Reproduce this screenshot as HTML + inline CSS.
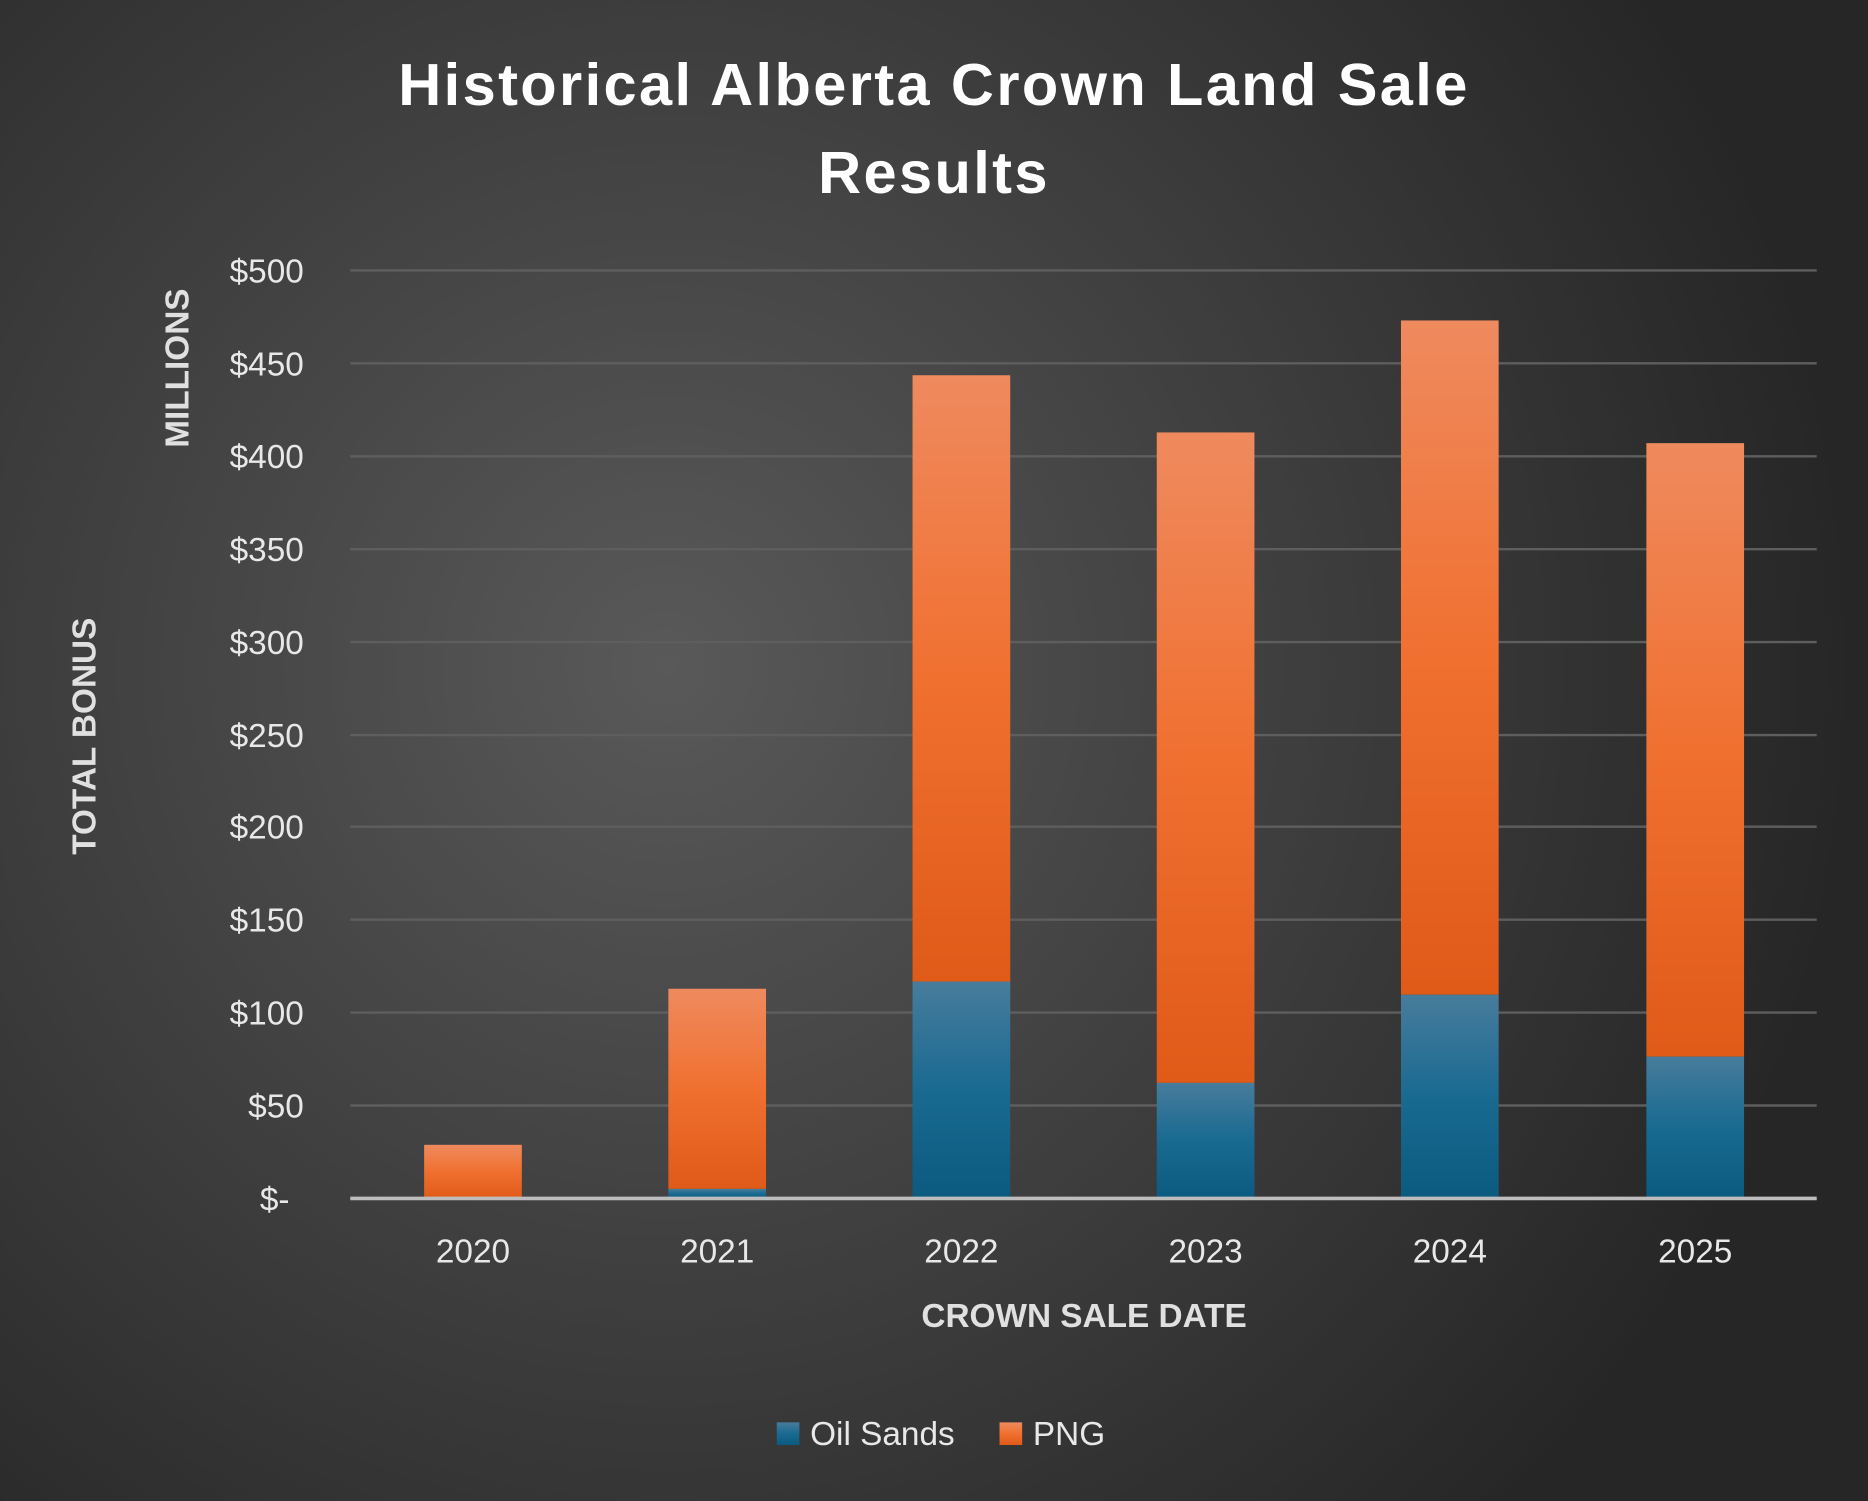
<!DOCTYPE html>
<html><head><meta charset="utf-8"><style>
html,body{margin:0;padding:0;width:1868px;height:1501px;overflow:hidden;background:#2a2a2a}
svg{display:block}
text{font-family:"Liberation Sans",sans-serif}
</style></head><body>
<svg width="1868" height="1501" viewBox="0 0 1568 1260" xmlns="http://www.w3.org/2000/svg">
<defs>
<radialGradient id="bg" cx="560" cy="560" r="1000" gradientUnits="userSpaceOnUse">
<stop offset="0" stop-color="#595959"/><stop offset="1" stop-color="#262626"/>
</radialGradient>
<linearGradient id="og" x1="0" y1="0" x2="0" y2="1">
<stop offset="0" stop-color="#ef8a5e"/><stop offset="0.5" stop-color="#f07030"/><stop offset="1" stop-color="#e05a18"/>
</linearGradient>
<linearGradient id="bl" x1="0" y1="0" x2="0" y2="1">
<stop offset="0" stop-color="#477c9c"/><stop offset="0.5" stop-color="#196a91"/><stop offset="1" stop-color="#0b5a80"/>
</linearGradient>
</defs>
<rect width="1568" height="1260" fill="url(#bg)"/>
<text x="784" y="88" text-anchor="middle" fill="#fff" font-size="50" font-weight="bold" letter-spacing="2">Historical Alberta Crown Land Sale</text>
<text x="784" y="162" text-anchor="middle" fill="#fff" font-size="50" font-weight="bold" letter-spacing="2">Results</text>
<g stroke="#5e5e5e" stroke-width="2">
<line x1="294" x2="1525" y1="227" y2="227"/><line x1="294" x2="1525" y1="305" y2="305"/>
<line x1="294" x2="1525" y1="383" y2="383"/><line x1="294" x2="1525" y1="461" y2="461"/>
<line x1="294" x2="1525" y1="539" y2="539"/><line x1="294" x2="1525" y1="617" y2="617"/>
<line x1="294" x2="1525" y1="694" y2="694"/><line x1="294" x2="1525" y1="772" y2="772"/>
<line x1="294" x2="1525" y1="850" y2="850"/><line x1="294" x2="1525" y1="928" y2="928"/>
</g>
<g fill="#e8e8e8" font-size="28" text-anchor="end">
<text x="255" y="237">$500</text><text x="255" y="315">$450</text><text x="255" y="393">$400</text>
<text x="255" y="471">$350</text><text x="255" y="549">$300</text><text x="255" y="627">$250</text>
<text x="255" y="704">$200</text><text x="255" y="782">$150</text><text x="255" y="860">$100</text>
<text x="255" y="938">$50</text><text x="243" y="1016">$-</text>
</g>
<g>
<rect x="356" y="961" width="82" height="45" fill="url(#og)"/>
<rect x="561" y="830" width="82" height="168" fill="url(#og)"/><rect x="561" y="998" width="82" height="8" fill="url(#bl)"/>
<rect x="766" y="315" width="82" height="509" fill="url(#og)"/><rect x="766" y="824" width="82" height="182" fill="url(#bl)"/>
<rect x="971" y="363" width="82" height="546" fill="url(#og)"/><rect x="971" y="909" width="82" height="97" fill="url(#bl)"/>
<rect x="1176" y="269" width="82" height="566" fill="url(#og)"/><rect x="1176" y="835" width="82" height="171" fill="url(#bl)"/>
<rect x="1382" y="372" width="82" height="515" fill="url(#og)"/><rect x="1382" y="887" width="82" height="119" fill="url(#bl)"/>
</g>
<line x1="294" x2="1525" y1="1006" y2="1006" stroke="#bdbdbd" stroke-width="3"/>
<g fill="#e8e8e8" font-size="28" text-anchor="middle">
<text x="397" y="1060">2020</text><text x="602" y="1060">2021</text><text x="807" y="1060">2022</text>
<text x="1012" y="1060">2023</text><text x="1217" y="1060">2024</text><text x="1423" y="1060">2025</text>
</g>
<text x="910" y="1114" text-anchor="middle" fill="#e0e0e0" font-size="28" font-weight="bold">CROWN SALE DATE</text>
<text transform="translate(80,618) rotate(-90)" text-anchor="middle" fill="#e0e0e0" font-size="28" font-weight="bold">TOTAL BONUS</text>
<text transform="translate(158,309) rotate(-90)" text-anchor="middle" fill="#e0e0e0" font-size="28" font-weight="bold">MILLIONS</text>
<rect x="652" y="1194" width="19" height="19" fill="url(#bl)"/>
<text x="680" y="1213" fill="#e8e8e8" font-size="28">Oil Sands</text>
<rect x="839" y="1194" width="19" height="19" fill="url(#og)"/>
<text x="867" y="1213" fill="#e8e8e8" font-size="28">PNG</text>
</svg>
</body></html>
